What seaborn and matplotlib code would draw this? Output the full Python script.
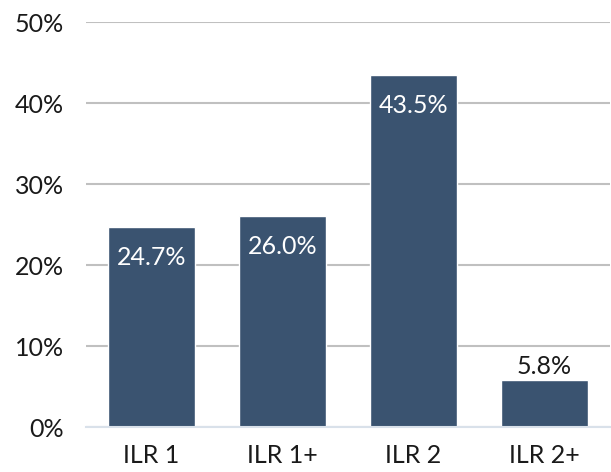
import matplotlib
matplotlib.use('Agg')
import matplotlib.pyplot as plt
import pandas as pd
import seaborn as sns
from matplotlib.ticker import PercentFormatter

levels = ['ILR 1', 'ILR 1+', 'ILR 2', 'ILR 2+']
shares = [24.7, 26.0, 43.5, 5.8]

df = pd.DataFrame({'level': levels, 'share': shares})

sns.set_style('white')
plt.rcParams['font.family'] = ['Lato', 'DejaVu Sans']

fig = plt.figure(figsize=(6.11, 4.72), dpi=100)
ax = fig.add_axes([0.141, 0.0953, 0.857, 0.858])

bar_color = '#3A5370'
sns.barplot(data=df, x='level', y='share', color=bar_color, width=0.66,
            saturation=1, ax=ax, zorder=3)

ax.set_ylim(0, 50)
ax.set_xlim(-0.5, 3.5)
ax.set_yticks(range(0, 51, 10))
ax.yaxis.set_major_formatter(PercentFormatter(decimals=0))
ax.grid(axis='y', color='#C0C0C0', linewidth=1.5, zorder=0)
ax.grid(axis='x', visible=False)
for s in ['left', 'right', 'top']:
    ax.spines[s].set_visible(False)
ax.spines['bottom'].set_color('#D9E1EA')
ax.spines['bottom'].set_linewidth(1.5)
ax.spines['bottom'].set_zorder(4)
ax.tick_params(axis='both', length=0, labelsize=18, colors='#1a1a1a')
ax.tick_params(axis='y', pad=16)
ax.tick_params(axis='x', pad=12)
ax.set_xlabel('')
ax.set_ylabel('')

for i, v in enumerate(shares):
    if v > 10:
        ax.annotate(f'{v:.1f}%', (i, v), xytext=(0, -22), textcoords='offset points',
                    ha='center', va='center', color='white', fontsize=18, zorder=5)
    else:
        ax.annotate(f'{v:.1f}%', (i, v), xytext=(0, 10), textcoords='offset points',
                    ha='center', va='center', color='#1a1a1a', fontsize=18, zorder=5)

fig.savefig('out.png', dpi=100)
